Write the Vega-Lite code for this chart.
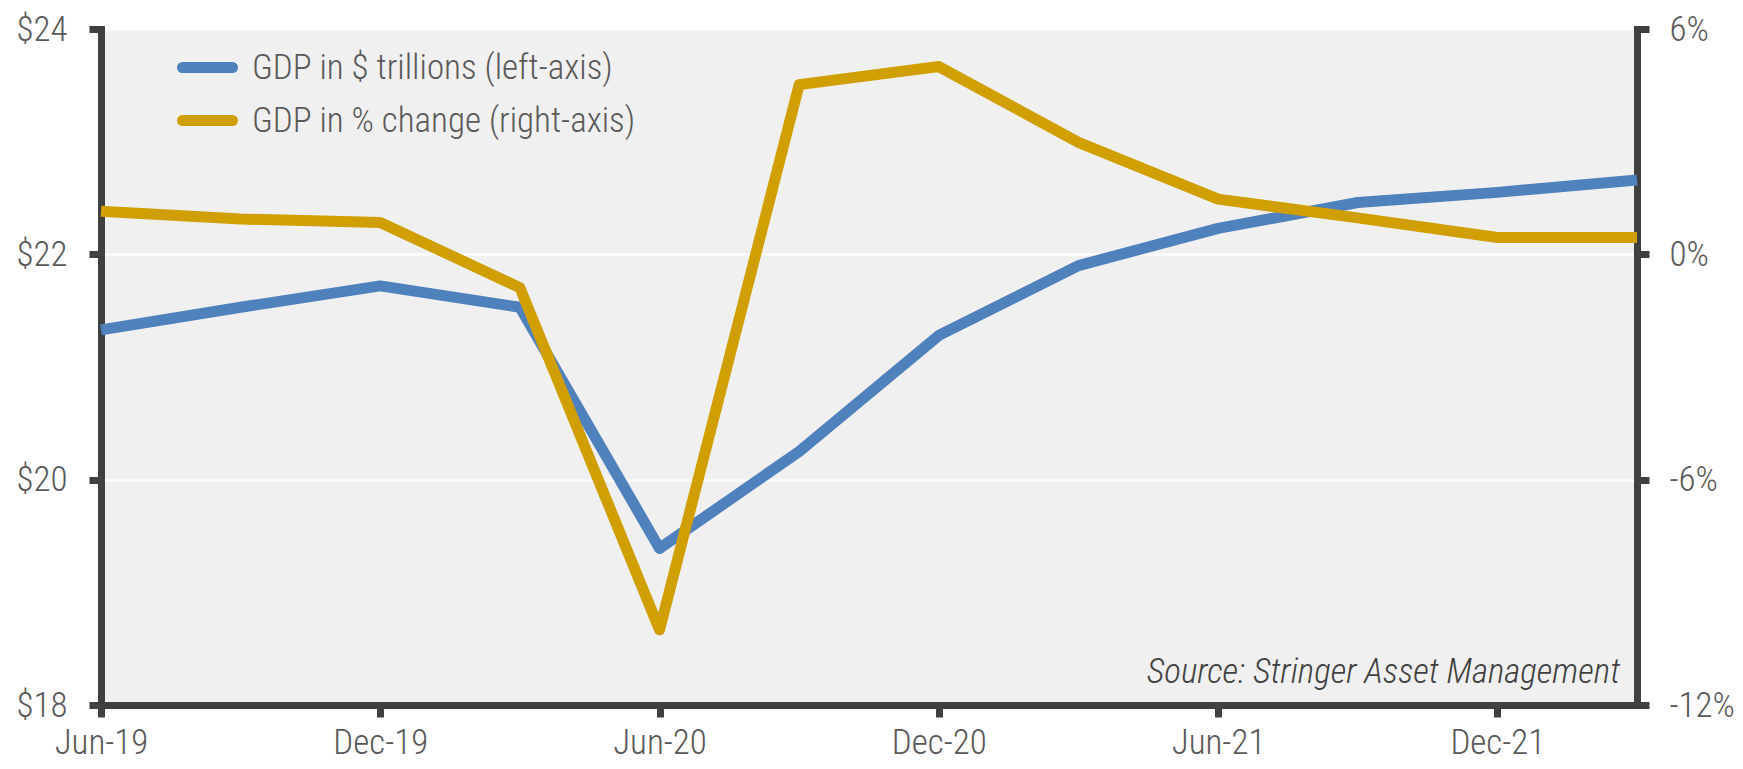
{
  "$schema": "https://vega.github.io/schema/vega-lite/v6.json",
  "width": 1536,
  "height": 676,
  "autosize": {"type": "none"},
  "padding": {"left": 101, "top": 29, "right": 106, "bottom": 64},
  "background": "white",
  "config": {
    "view": {"fill": "#f0f0f0", "stroke": null},
    "font": "Roboto Condensed, DejaVu Sans Condensed, sans-serif",
    "axis": {
      "domainColor": "#404040",
      "domainWidth": 7,
      "domainCap": "square",
      "tickColor": "#404040",
      "tickWidth": 7,
      "tickSize": 12,
      "labelFont": "Roboto Condensed, DejaVu Sans Condensed, sans-serif",
      "labelFontSize": 35,
      "labelFontWeight": 300,
      "labelColor": "#595959",
      "title": null
    }
  },
  "data": {
    "values": [
      {"quarter": "Jun-19", "gdp": 21.33, "pct": 1.15},
      {"quarter": "Sep-19", "gdp": 21.53, "pct": 0.94},
      {"quarter": "Dec-19", "gdp": 21.72, "pct": 0.85},
      {"quarter": "Mar-20", "gdp": 21.53, "pct": -0.89},
      {"quarter": "Jun-20", "gdp": 19.39, "pct": -10.0},
      {"quarter": "Sep-20", "gdp": 20.25, "pct": 4.52},
      {"quarter": "Dec-20", "gdp": 21.28, "pct": 5.0},
      {"quarter": "Mar-21", "gdp": 21.9, "pct": 2.98},
      {"quarter": "Jun-21", "gdp": 22.23, "pct": 1.47},
      {"quarter": "Sep-21", "gdp": 22.46, "pct": 0.97},
      {"quarter": "Dec-21", "gdp": 22.55, "pct": 0.45},
      {"quarter": "Mar-22", "gdp": 22.66, "pct": 0.45}
    ]
  },
  "encoding": {
    "x": {
      "field": "quarter",
      "type": "ordinal",
      "sort": null,
      "scale": {"type": "point", "padding": 0},
      "axis": {
        "values": ["Jun-19", "Dec-19", "Jun-20", "Dec-20", "Jun-21", "Dec-21"],
        "labelAngle": 0,
        "labelPadding": 8,
        "grid": false
      }
    }
  },
  "layer": [
    {
      "layer": [
        {
          "mark": {"type": "line", "strokeWidth": 11, "strokeJoin": "round", "strokeCap": "butt"},
          "encoding": {
            "y": {
              "field": "gdp",
              "type": "quantitative",
              "scale": {"domain": [18, 24], "nice": false, "zero": false},
              "axis": {
                "orient": "left",
                "values": [18, 20, 22, 24],
                "labelExpr": "'$' + datum.value",
                "labelPadding": 22,
                "grid": true,
                "gridColor": "white",
                "gridWidth": 2
              }
            },
            "color": {
              "datum": "GDP in $ trillions (left-axis)",
              "scale": {
                "domain": ["GDP in $ trillions (left-axis)", "GDP in % change (right-axis)"],
                "range": ["#4f81bd", "#d0a000"]
              },
              "legend": {
                "orient": "none",
                "legendX": 86,
                "legendY": 18,
                "title": null,
                "symbolType": "M-1.667,0H1.667",
                "symbolSize": 900,
                "symbolStrokeWidth": 11,
                "labelFont": "Roboto Condensed, DejaVu Sans Condensed, sans-serif",
                "labelFontSize": 35,
                "labelFontWeight": 300,
                "labelColor": "#595959",
                "labelOffset": 24,
                "rowPadding": 8,
                "labelLimit": 1000,
                "padding": 0,
                "encode": {"symbols": {"update": {"strokeCap": {"value": "round"}, "fill": {"value": "transparent"}}}}
              }
            }
          }
        },
        {
          "data": {"values": [{"label": "Source: Stringer Asset Management"}]},
          "mark": {
            "type": "text",
            "align": "right",
            "baseline": "alphabetic",
            "dx": -17,
            "dy": -22,
            "font": "Roboto Condensed, DejaVu Sans Condensed, sans-serif",
            "fontSize": 35,
            "fontWeight": 300,
            "fontStyle": "italic",
            "color": "#404040"
          },
          "encoding": {
            "x": {"datum": "Mar-22"},
            "y": {"datum": 18},
            "text": {"field": "label"}
          }
        }
      ]
    },
    {
      "mark": {"type": "line", "strokeWidth": 11, "strokeJoin": "round", "strokeCap": "butt"},
      "encoding": {
        "y": {
          "field": "pct",
          "type": "quantitative",
          "scale": {"domain": [-12, 6], "nice": false, "zero": false},
          "axis": {
            "orient": "right",
            "values": [-12, -6, 0, 6],
            "labelExpr": "datum.value + '%'",
            "labelPadding": 20,
            "grid": false
          }
        },
        "color": {"datum": "GDP in % change (right-axis)"}
      }
    }
  ],
  "resolve": {"scale": {"y": "independent"}}
}
